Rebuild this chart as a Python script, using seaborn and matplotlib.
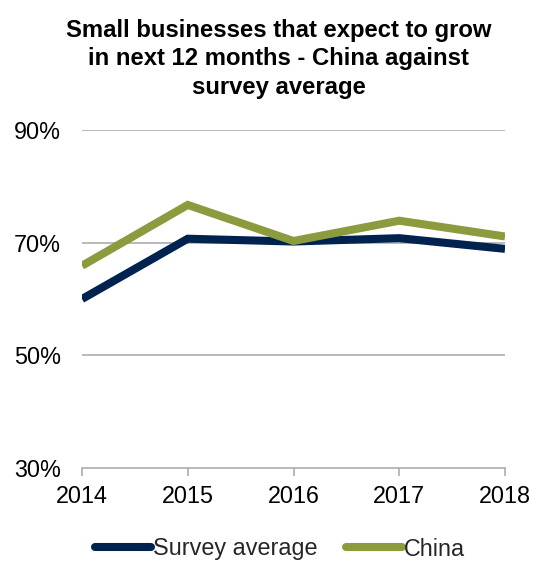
import matplotlib
matplotlib.use("Agg")
import matplotlib.pyplot as plt
import seaborn as sns
import pandas as pd
from matplotlib.lines import Line2D

years = [2014, 2015, 2016, 2017, 2018]
survey_average = [60.0, 70.7, 70.2, 70.8, 68.9]
china = [65.9, 76.7, 70.3, 73.9, 71.1]
series_names = ["Survey average", "China"]
colors = ["#00224E", "#8C9B3E"]
y_ticks = [30, 50, 70, 90]
title = "Small businesses that expect to grow\nin next 12 months - China against\nsurvey average"

sns.set_theme(style="white")
plt.rcParams['font.family'] = ['Liberation Sans', 'DejaVu Sans']

df = pd.DataFrame({
    "year": years * 2,
    "value": survey_average + china,
    "series": [series_names[0]] * len(years) + [series_names[1]] * len(years),
})

fig = plt.figure(figsize=(5.38, 5.61), dpi=100)
ax = fig.add_axes([82/538, 93/561, (505-82)/538, (468-130)/561])

sns.lineplot(data=df, x="year", y="value", hue="series", palette=colors,
             hue_order=series_names, linewidth=5.8, ax=ax, legend=False,
             solid_joinstyle="miter", solid_capstyle="butt")

ax.set_xlim(years[0], years[-1])
ax.set_ylim(30, 90)
ax.set_xticks(years)
ax.set_xticklabels([str(y) for y in years])
ax.set_yticks(y_ticks)
ax.set_yticklabels([f"{v}%" for v in y_ticks])
ax.set_xlabel("")
ax.set_ylabel("")

for v in y_ticks[1:]:
    ax.axhline(v, color="#A6A6A6", linewidth=1.1, zorder=0)

for s in ["top", "right", "left"]:
    ax.spines[s].set_visible(False)
ax.spines["bottom"].set_color("#A6A6A6")
ax.spines["bottom"].set_linewidth(1.1)

ax.tick_params(axis="x", which="major", direction="out", length=6, width=1.1,
               color="#A6A6A6", labelsize=16.8, pad=6, bottom=True, labelcolor="black")
ax.tick_params(axis="y", which="major", length=0, labelsize=16.8, pad=15, labelcolor="black")

fig.text(278.5/538, 1 - 59/561, title, ha="center", va="center", fontsize=17.2,
         fontweight="bold", linespacing=1.28, color="black")

handles = [Line2D([0], [0], color=c, linewidth=5.8, solid_capstyle="round") for c in colors]
fig.legend(handles, series_names, loc="center", bbox_to_anchor=(280/538, 1 - 549/561),
           ncol=2, frameon=False, fontsize=16.8, handlelength=2.4, handletextpad=0.08,
           columnspacing=1.2, borderpad=0.1)

fig.savefig("out.png", dpi=100)
